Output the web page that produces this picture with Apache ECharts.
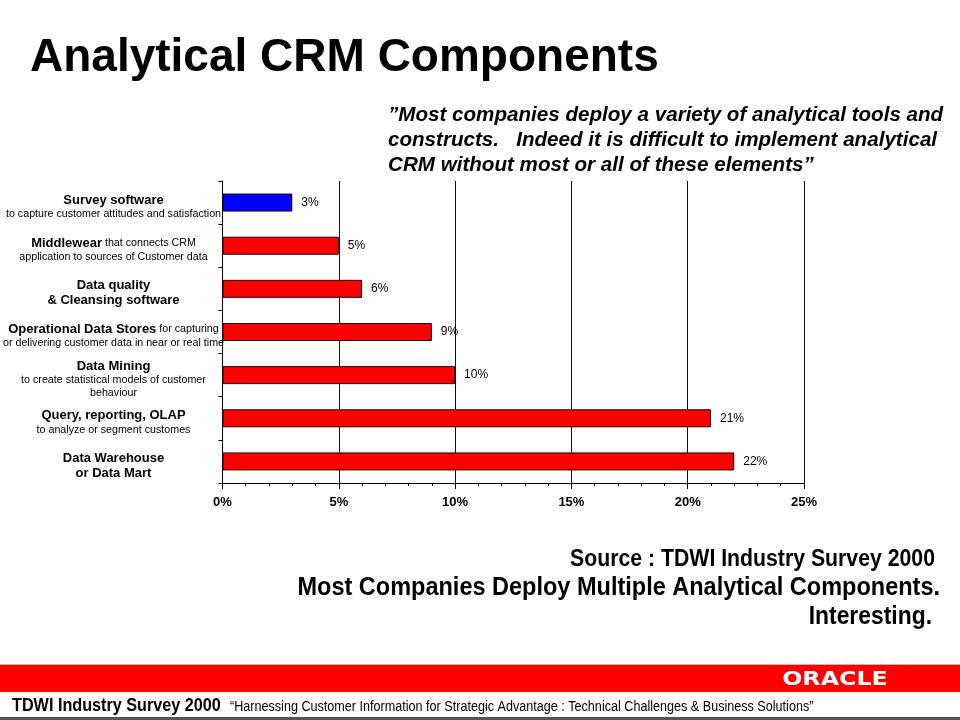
<!DOCTYPE html>
<html><head><meta charset="utf-8">
<script src="https://cdn.jsdelivr.net/npm/echarts@6/dist/echarts.min.js"></script>
<style>html,body{margin:0;padding:0;background:#fff}#c{width:960px;height:720px}</style>
</head><body><div id="c"></div>
<script>
const categories = ['Survey software','Middlewear','Data quality','Operational Data Stores','Data Mining','Query, reporting, OLAP','Data Warehouse'];
const categoryLabels = [
  '{b|Survey software}\n{n|to capture customer attitudes and satisfaction}',
  '{b|Middlewear}{n| that connects CRM}\n{n|application to sources of Customer data}',
  '{b|Data quality}\n{b|& Cleansing software}',
  '{b|Operational Data Stores}{n| for capturing}\n{n|or delivering customer data in near or real time}',
  '{b|Data Mining}\n{n|to create statistical models of customer}\n{n|behaviour}',
  '{b|Query, reporting, OLAP}\n{n|to analyze or segment customes}',
  '{b|Data Warehouse}\n{b|or Data Mart}'
];
const values = [3, 5, 6, 9, 10, 21, 22];
const highlightCategory = 'Survey software';
const xTicks = [0, 5, 10, 15, 20, 25];

const chart = echarts.init(document.getElementById('c'), null, {renderer:'canvas'});
const F = '"Liberation Sans", Arial, sans-serif';
chart.setOption({
  animation:false,
  backgroundColor:'#fff',
  grid:{left:222, right:156, top:181, bottom:237},
  xAxis:{type:'value', min:xTicks[0], max:xTicks[xTicks.length-1], interval:5,
    axisLine:{show:true, lineStyle:{color:'#000', width:1}},
    axisTick:{show:true, length:6, lineStyle:{color:'#000'}},
    minorTick:{show:true, splitNumber:5, length:3, lineStyle:{color:'#000'}},
    splitLine:{show:true, lineStyle:{color:'#111', width:1}},
    axisLabel:{formatter:v=>v+'%', color:'#000', fontFamily:F, fontWeight:'bold', fontSize:13, margin:13}
  },
  yAxis:{type:'category', inverse:true, data:categories,
    axisLine:{show:true, lineStyle:{color:'#000'}},
    axisTick:{show:true, length:4, lineStyle:{color:'#000'}},
    axisLabel:{margin:109, align:'center', color:'#000', padding:[8,0,0,0],
      formatter:(v,i)=>categoryLabels[i],
      rich:{
        b:{fontFamily:F, fontWeight:'bold', fontSize:13, lineHeight:15, color:'#000'},
        n:{fontFamily:F, fontSize:10.7, lineHeight:13, color:'#000'}
      }}
  },
  series:[{type:'bar', data:values, barWidth:18,
    itemStyle:{color:p=>p.name===highlightCategory?'#0000ff':'#ff0000', borderColor:'#200', borderWidth:1},
    label:{show:true, position:'right', distance:9, formatter:p=>p.value+'%', color:'#000', fontFamily:F, fontSize:12}
  }],
  graphic:[
    {type:'text', x:30, y:58, style:{text:'Analytical CRM Components', font:'bold 46px '+F, fill:'#000', textAlign:'left', textVerticalAlign:'middle'}},
    {type:'text', x:388, y:115, scaleX:1.03, style:{text:'\u201DMost companies deploy a variety of analytical tools and', font:'italic bold 20px '+F, fill:'#000', textVerticalAlign:'middle'}},
    {type:'text', x:388, y:140, scaleX:1.03, style:{text:'constructs.   Indeed it is difficult to implement analytical', font:'italic bold 20px '+F, fill:'#000', textVerticalAlign:'middle'}},
    {type:'text', x:388, y:165, scaleX:1.03, style:{text:'CRM without most or all of these elements\u201D', font:'italic bold 20px '+F, fill:'#000', textVerticalAlign:'middle'}},
    {type:'text', x:935, y:560, scaleX:0.924, style:{text:'Source : TDWI Industry Survey 2000', font:'bold 23px '+F, fill:'#000', textAlign:'right', textVerticalAlign:'middle'}},
    {type:'text', x:940, y:588, scaleX:0.904, style:{text:'Most Companies Deploy Multiple Analytical Components.', font:'bold 26px '+F, fill:'#000', textAlign:'right', textVerticalAlign:'middle'}},
    {type:'text', x:932, y:617, scaleX:0.88, style:{text:'Interesting.', font:'bold 26px '+F, fill:'#000', textAlign:'right', textVerticalAlign:'middle'}},
    {type:'rect', shape:{x:0, y:664, width:960, height:1}, style:{fill:'#bbb'}},
    {type:'rect', shape:{x:0, y:665, width:960, height:27}, style:{fill:'#ff0000'}},
    {type:'text', x:835, y:680, scaleX:1.25, style:{text:'ORACLE', font:'bold 19px "DejaVu Sans", sans-serif', fill:'#fff', textAlign:'center', textVerticalAlign:'middle'}},
    {type:'text', x:12, y:706, scaleX:0.9, style:{text:'TDWI Industry Survey 2000', font:'bold 18px '+F, fill:'#000', textVerticalAlign:'middle'}},
    {type:'text', x:230, y:707, scaleX:0.9, style:{text:'\u201CHarnessing Customer Information for Strategic Advantage : Technical Challenges & Business Solutions\u201D', font:'14px '+F, fill:'#000', textVerticalAlign:'middle'}},
    {type:'rect', shape:{x:0, y:717, width:960, height:3}, style:{fill:'#555'}}
  ]
});
</script></body></html>
